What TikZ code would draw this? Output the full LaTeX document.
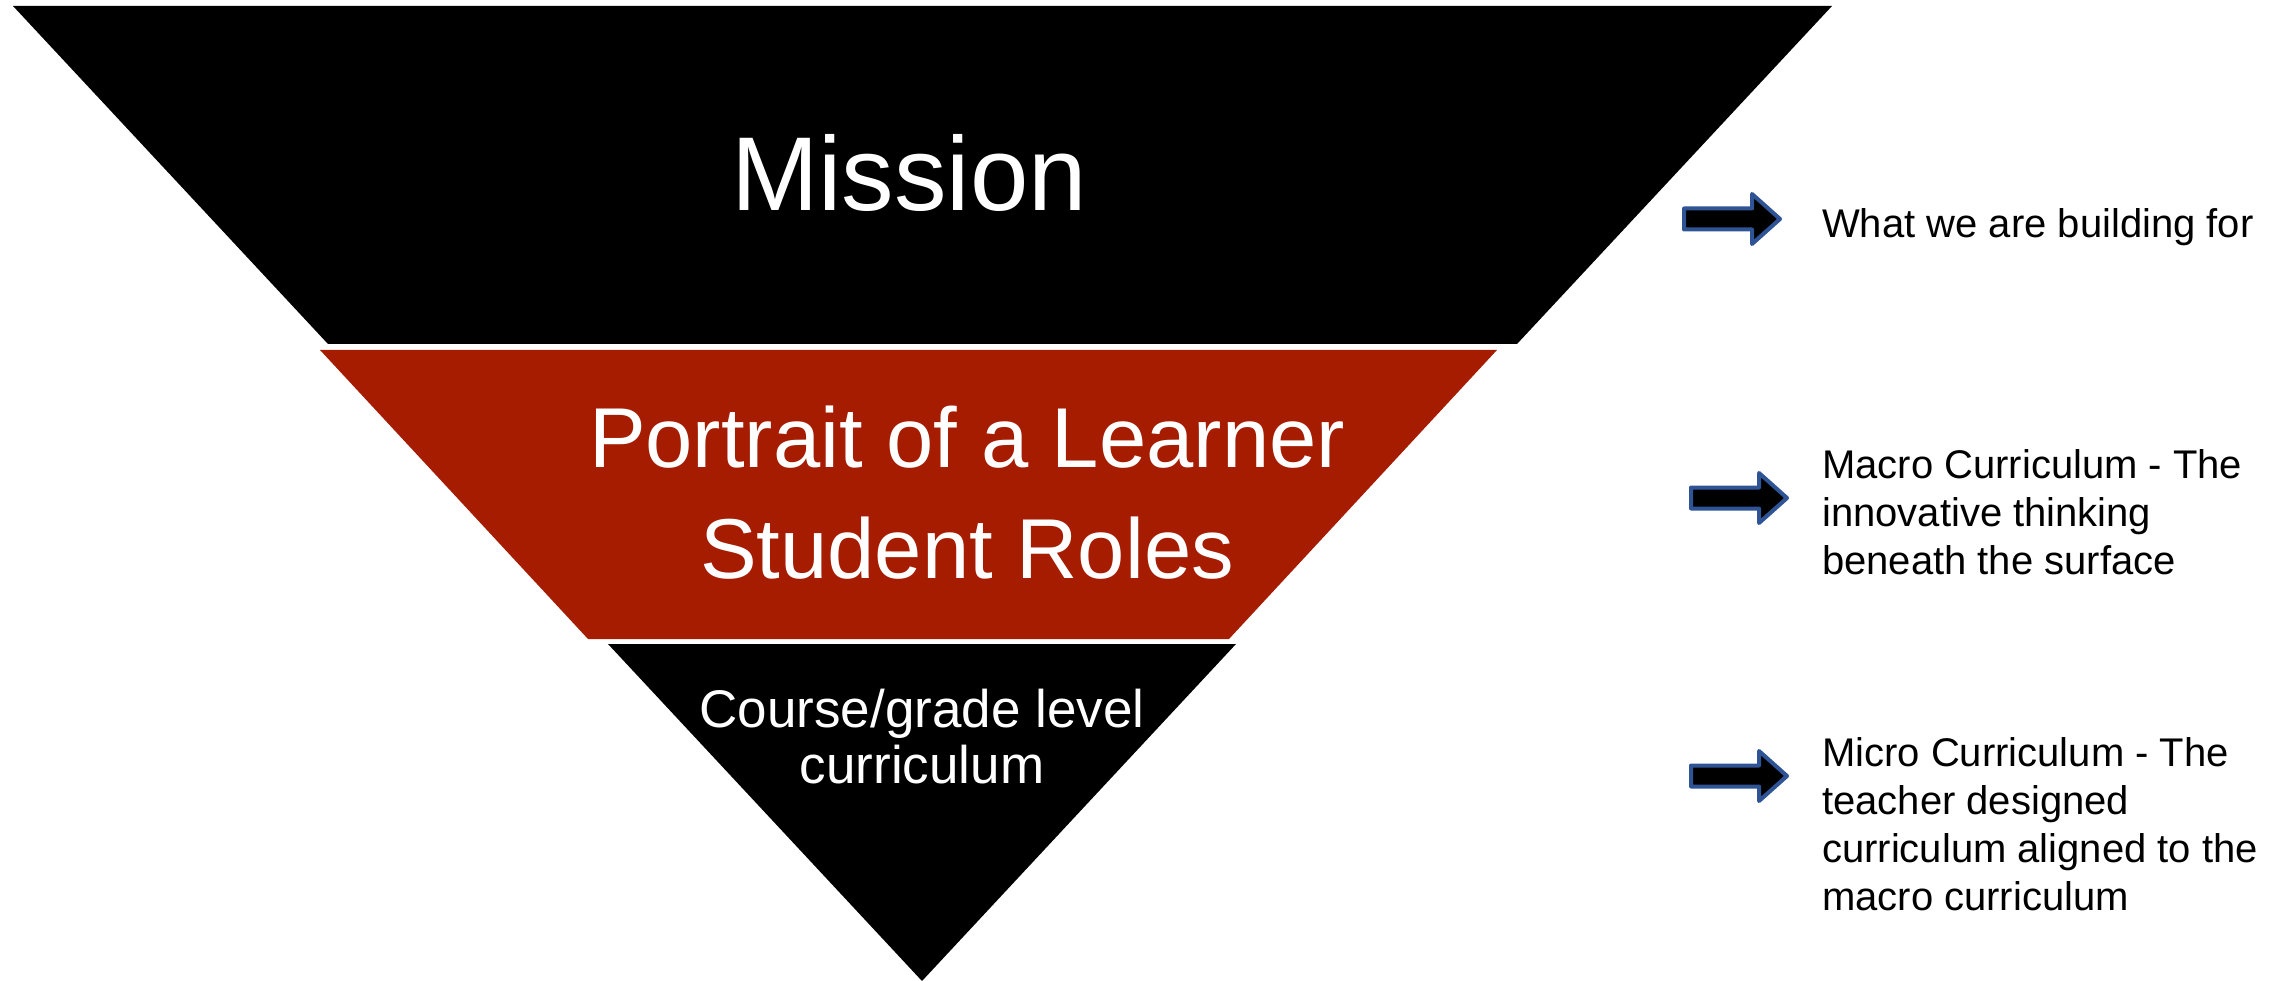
\documentclass[tikz,border=0pt]{standalone}
\usepackage{fontspec}
\setmainfont{Liberation Sans}
\usepackage{tikz}
\usetikzlibrary{positioning}

\definecolor{bandred}{RGB}{166,28,0}
\definecolor{arrowblue}{RGB}{47,84,150}

\tikzset{
  bandtext/.style={text=white, align=center, anchor=base, inner sep=0pt},
  notetext/.style={text=black, align=left, anchor=base west, inner sep=0pt,
    font=\fontsize{40}{48}\selectfont},
  blockarrow/.style={draw=arrowblue, fill=black, line width=4pt, line join=round}
}

\begin{document}
\begin{tikzpicture}[x=1pt,y=-1pt]
\useasboundingbox (0,0) rectangle (2285,981);

% Funnel bands
\fill[black] (13,6) -- (1832,6) -- (1517,344) -- (328,344) -- cycle;
\fill[bandred] (320,350) -- (1497,350) -- (1229,639) -- (588,639) -- cycle;
\fill[black] (608,644) -- (1236,644) -- (922,981) -- cycle;

% Band labels (anchored on last baseline)
\node[bandtext, font=\fontsize{105}{126}\selectfont] (mission) at (909,211) {Mission};
\node[bandtext, font=\fontsize{85}{111}\selectfont] (portrait) at (967,578) {Portrait of a Learner\\Student Roles};
\node[bandtext, font=\fontsize{53}{56}\selectfont] (course) at (922,783) {Course/grade level\\curriculum};

% Block arrows
\foreach \x/\y in {1684/219, 1691/498, 1691/776} {
  \draw[blockarrow] (\x,\y-10.5) -- ++(68,0) -- ++(0,-14.5) -- (\x+96,\y)
    -- (\x+68,\y+25) -- ++(0,-14.5) -- (\x,\y+10.5) -- cycle;
}

% Notes
\node[notetext] (building) at (1822,238) {What we are building for};
\node[notetext] (macro) at (1822,574) {Macro Curriculum - The\\innovative thinking\\beneath the surface};
\node[notetext] (micro) at (1822,910) {Micro Curriculum - The\\teacher designed\\curriculum aligned to the\\macro curriculum};

\end{tikzpicture}
\end{document}
